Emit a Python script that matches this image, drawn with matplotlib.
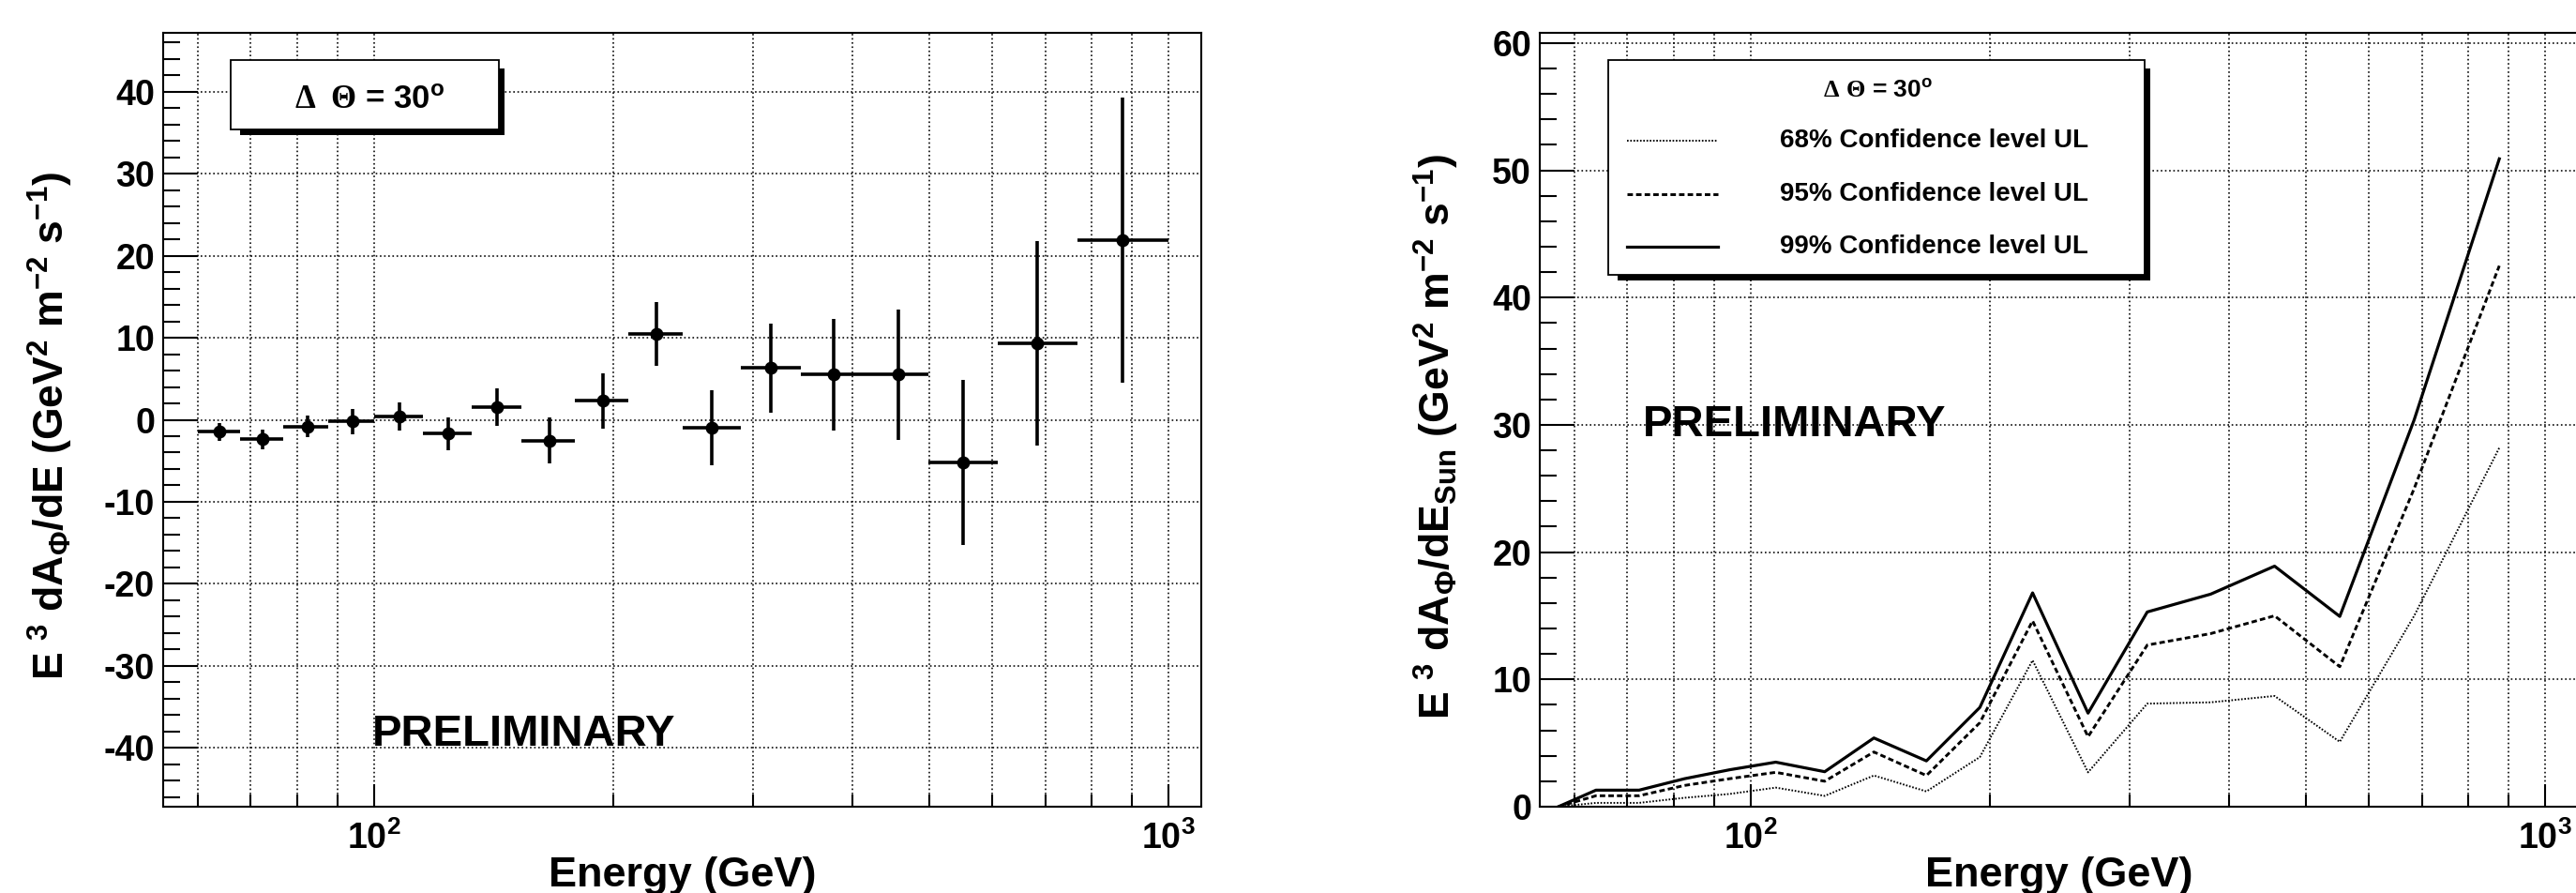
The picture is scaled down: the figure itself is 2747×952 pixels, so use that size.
import numpy as np
import matplotlib
matplotlib.use('Agg')
import matplotlib.pyplot as plt
from matplotlib.ticker import FixedLocator, FixedFormatter, MultipleLocator, NullFormatter
from matplotlib.patches import Rectangle
from matplotlib.lines import Line2D

plt.rcParams['font.family'] = ['Liberation Sans', 'DejaVu Sans']
plt.rcParams['font.weight'] = 'bold'
plt.rcParams['mathtext.fontset'] = 'custom'
plt.rcParams['mathtext.bf'] = 'Liberation Sans:bold'
plt.rcParams['mathtext.it'] = 'Liberation Sans:bold'
plt.rcParams['mathtext.sf'] = 'Liberation Sans:bold'
plt.rcParams['mathtext.rm'] = 'Liberation Serif'
plt.rcParams['mathtext.default'] = 'bf'
plt.rcParams['axes.unicode_minus'] = False
plt.rcParams['lines.scale_dashes'] = False

# ---- left panel: E^3 dA/dE with bin widths ----
e_lo = [60.0, 67.8, 76.8, 87.5, 100.0, 115.3, 132.6, 153.3, 179.0,
        209.0, 244.7, 289.5, 344.5, 418.0, 499.0, 610.0, 768.0]
e_hi = [67.8, 76.8, 87.5, 100.0, 115.3, 132.6, 153.3, 179.0, 209.0,
        244.7, 289.5, 344.5, 418.0, 499.0, 610.0, 768.0, 1000.0]
e_c = [63.9, 72.4, 82.6, 94.1, 107.6, 124.0, 143.0, 166.5, 194.4,
       226.5, 266.0, 315.8, 379.5, 456.7, 551.7, 684.5, 876.0]
flux = [-1.45, -2.36, -0.84, -0.19, 0.42, -1.71, 1.52, -2.55, 2.32,
        10.5, -1.0, 6.3, 5.5, 5.5, -5.2, 9.3, 21.9]
flux_err = [1.1, 1.2, 1.3, 1.55, 1.75, 2.05, 2.3, 2.8, 3.35,
            3.9, 4.55, 5.4, 6.8, 7.95, 10.1, 12.5, 17.4]

# ---- right panel: upper limits ----
e_ul = [57.3, 63.9, 72.4, 82.6, 94.1, 107.6, 124.0, 143.0, 166.5, 194.4,
        226.5, 266.0, 315.8, 379.5, 456.7, 551.7, 684.5, 876.0]
ul68 = [0, 0.3, 0.3, 0.7, 1.0, 1.5, 0.85, 2.45, 1.2, 3.9,
        11.5, 2.7, 8.1, 8.2, 8.7, 5.1, 15.0, 28.2]
ul95 = [0, 0.86, 0.86, 1.67, 2.2, 2.7, 2.0, 4.3, 2.45, 6.6,
        14.6, 5.5, 12.7, 13.6, 15.0, 11.0, 25.0, 42.5]
ul99 = [0, 1.3, 1.3, 2.2, 2.9, 3.5, 2.75, 5.4, 3.6, 7.8,
        16.8, 7.35, 15.3, 16.7, 18.9, 14.95, 30.4, 50.9]

ul_labels = ['68% Confidence level UL', '95% Confidence level UL', '99% Confidence level UL']
ul_styles = [dict(lw=1.4, ls=(0, (1.2, 1.3))),
             dict(lw=2.1, ls=(0, (4.2, 2.4))),
             dict(lw=2.3, ls='-')]

W, H = 2747, 952


def fx(x):
    return x / W


def fy(y):
    return 1 - y / H


fig = plt.figure(figsize=(W / 100, H / 100), dpi=100, facecolor='white')
aw, ah = (1281 - 174) / W, (860 - 35) / H
ax1 = fig.add_axes([fx(174), fy(860), aw, ah])
ax2 = fig.add_axes([fx(1642), fy(860), aw, ah])

grid_kw = dict(color='k', lw=1.15, ls=(0, (1.2, 2.0)))
for ax in (ax1, ax2):
    ax.set_xscale('log')
    ax.set_xlim(54.3, 1100)
    ax.xaxis.set_major_locator(FixedLocator([100, 1000]))
    ax.xaxis.set_major_formatter(FixedFormatter([r'$\mathbf{10^{2}}$', r'$\mathbf{10^{3}}$']))
    ax.xaxis.set_minor_locator(FixedLocator([60, 70, 80, 90, 200, 300, 400, 500, 600, 700, 800, 900]))
    ax.xaxis.set_minor_formatter(NullFormatter())
    ax.yaxis.set_major_locator(MultipleLocator(10))
    ax.yaxis.set_minor_locator(MultipleLocator(2))
    ax.tick_params(axis='both', which='both', direction='in', top=False, right=False,
                   width=1.5, labelsize=27)
    ax.tick_params(axis='x', which='major', length=17, pad=11)
    ax.tick_params(axis='x', which='minor', length=9.4)
    ax.tick_params(axis='y', which='major', length=26.6, pad=6.5)
    ax.tick_params(axis='y', which='minor', length=13)
    ax.grid(True, which='major', axis='both', **grid_kw)
    ax.grid(True, which='minor', axis='x', **grid_kw)
    for sp in ax.spines.values():
        sp.set_linewidth(1.5)

ax1.set_ylim(-47.2, 47.2)
ax2.set_ylim(0, 60.8)

xerr = [np.subtract(e_c, e_lo), np.subtract(e_hi, e_c)]
ax1.errorbar(e_c, flux, yerr=flux_err, xerr=xerr, fmt='o', color='k', ms=9,
             elinewidth=2.6, capsize=0, zorder=3)

for vals, st in zip([ul68, ul95, ul99], ul_styles):
    ax2.plot(e_ul, vals, color='k', zorder=3, **st)

# axis titles
ylab = r'E $^{3}$ dA$_{\Phi}$/dE (GeV$^{2}$ m$^{-2}$ s$^{-1}$)'
ylab2 = r'E $^{3}$ dA$_{\Phi}$/dE$_{Sun}$ (GeV$^{2}$ m$^{-2}$ s$^{-1}$)'
fig.text(fx(54), fy(454), ylab, rotation=90, ha='center', va='center', fontsize=32)
fig.text(fx(1532), fy(466), ylab2, rotation=90, ha='center', va='center', fontsize=32)
fig.text(fx(727.5), fy(945), 'Energy (GeV)', ha='center', va='baseline', fontsize=32.5)
fig.text(fx(2195.5), fy(945), 'Energy (GeV)', ha='center', va='baseline', fontsize=32.5)

# PRELIMINARY
fig.text(fx(397), fy(795), 'PRELIMINARY', ha='left', va='baseline', fontsize=34)
fig.text(fx(1752), fy(465), 'PRELIMINARY', ha='left', va='baseline', fontsize=34)


def box(x0, y0, x1, y1):
    fig.add_artist(Rectangle((fx(x0 + 10), fy(y1 + 6)), (x1 - x0 - 4) / W, (y1 - y0 - 3) / H,
                             transform=fig.transFigure, facecolor='k', edgecolor='none', zorder=5))
    fig.add_artist(Rectangle((fx(x0), fy(y1)), (x1 - x0) / W, (y1 - y0) / H,
                             transform=fig.transFigure, facecolor='white', edgecolor='k',
                             lw=1.3, zorder=6))


# left label box
box(246, 64, 532, 138)
fig.text(fx(394), fy(106), r'$\mathrm{\Delta\;\;\Theta}$ = 30$^{o}$', ha='center', va='center',
         fontsize=25, zorder=7)

# right legend
box(1715, 64, 2287, 293)
fig.text(fx(2003), fy(97), r'$\mathrm{\Delta\ \Theta}$ = 30$^{o}$', ha='center', va='center',
         fontsize=19, zorder=7)
for yrow, lab, st in zip([150, 207, 263], ul_labels, ul_styles):
    fig.add_artist(Line2D([fx(1735), fx(1832)], [fy(yrow), fy(yrow)], transform=fig.transFigure,
                          color='k', zorder=7, **st))
    fig.text(fx(1898), fy(yrow), lab, ha='left', va='center', fontsize=20, zorder=7)

fig.savefig('out.png', dpi=100, facecolor='white')
